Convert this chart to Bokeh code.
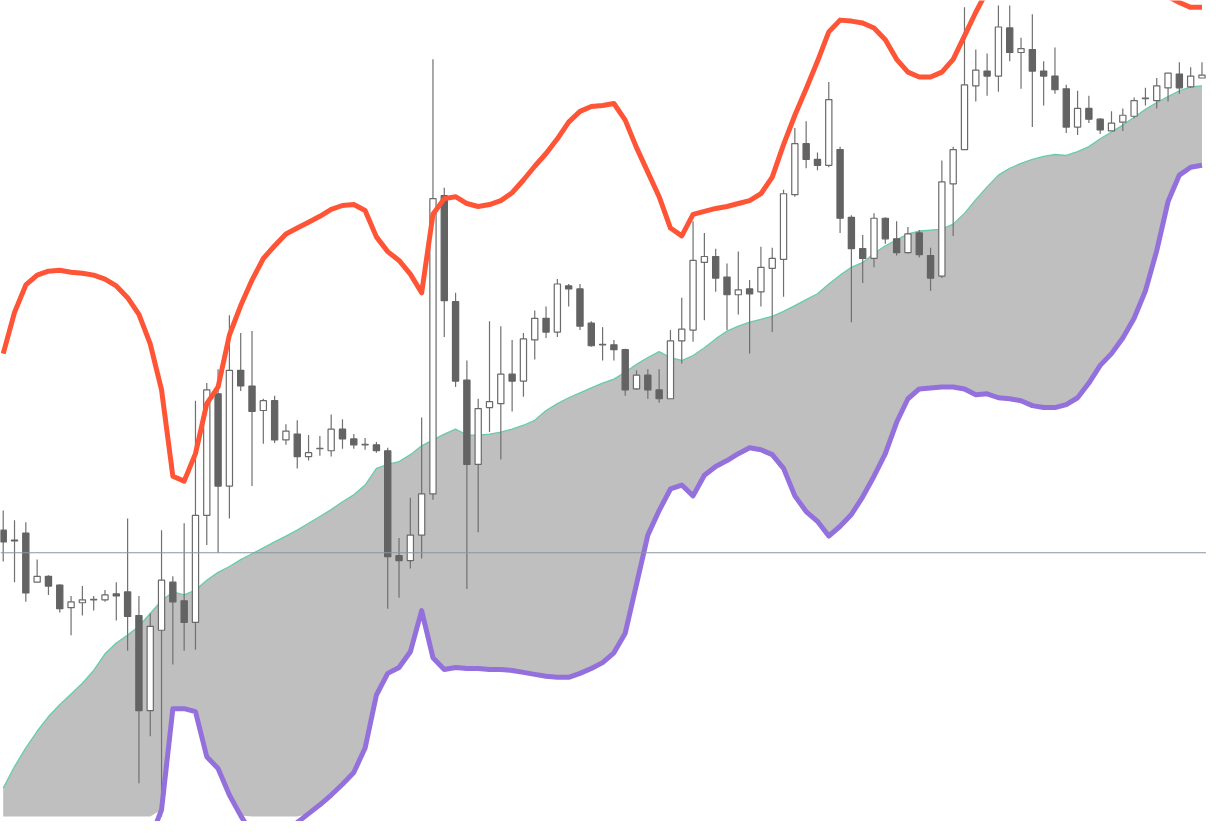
import numpy as np
from bokeh.plotting import figure
from bokeh.models import Range1d, ColumnDataSource, Span
from bokeh.embed import file_html
from bokeh.resources import INLINE

# ---- OHLC data (107 bars) ----
highs = [317,307,305,267,251,242,230,240,230,236,
         244,309,230,212,297,250,304,429,447,461,
         516,498,500,431,434,405,409,394,393,415,
         410,395,391,387,381,289,330,412,777,646,
         539,470,431,510,505,491,498,521,525,553,
         548,548,510,504,491,482,460,461,461,501,
         534,612,600,584,569,581,552,586,585,644,
         707,714,682,754,688,618,598,620,616,612,
         606,603,585,674,688,830,787,783,832,832,
         799,823,775,789,751,745,740,717,724,727,
         738,748,758,763,774,769,774]
lows = [265,244,224,244,231,213,190,210,215,224,
        205,174,39,87,5,160,174,175,282,274,
        309,439,342,385,386,384,360,368,373,372,
        380,380,379,376,217,228,258,268,328,494,
        443,237,295,397,369,418,433,471,493,494,
        525,501,484,470,470,434,440,431,427,431,
        467,489,511,540,501,517,477,525,499,535,
        637,666,664,667,600,509,549,565,589,577,
        579,575,541,554,597,685,734,740,744,775,
        747,708,730,742,702,700,712,701,704,704,
        717,730,727,734,742,748,758]
opens = [297,287,294,244,250,241,218,223,226,226,
         232,234,210,113,195,244,225,203,312,436,
         342,460,444,419,429,389,395,372,380,378,
         400,390,384,384,378,271,266,292,334,638,
         530,450,364,422,426,456,449,491,513,499,
         546,543,508,486,486,481,441,455,440,431,
         490,501,570,576,555,537,543,540,564,573,
         639,691,675,669,685,616,584,574,615,594,
         580,600,577,556,650,685,750,765,760,809,
         784,787,765,760,747,708,727,716,704,713,
         719,737,735,748,762,749,758]
closes = [285,286,233,250,240,217,224,226,226.5,231,
          230,209,113,199,246,224,203,312,440,342,
          460,444,418,429,389,398,372,376,380.5,400,
          390,384,384.5,378,270,266,292,334,635,531,
          449,364,421,428,456,449,492,513,499,548,
          543,505,485,486.5,481,440,455,440,431,490,
          502,572,576,554,537,542,538,565,574,640,
          691,675,669,736,615,584,574,615,594,580,
          599,578,554,652,685,751,766,760,810,784,
          788,765,760,746,708,727,716,705,712,720,
          735,737.5,750,763,748,760,761]

# ---- indicator lines (one value per bar) ----
upper_band = [477,519,547,557,561,562,560,559,557,553,
              546,534,517,487,440,352,347,375,426,443,
              496,526,552,574,587,599,605,611,617,624,
              628,629,623,596,581,572,558,539,619,635,
              637,630,627,629,633,641,654,668,681,696,
              713,724,729,730,732,715,687,662,637,605,
              597,619,622,625,627,630,633,640,657,690,
              720,747,775,805,817,816,814,809,797,777,
              764,759,759,764,777,801,825,847,862,872,
              877,879,877,875,875,873,869,867,865,862,
              857,852,847,841,835,830,830]
lower_band = [-43,-48,-53,-63,-68,-68,-63,-63,-58,-53,
              -48,-43,-33,-18,12,115,115,112,66,54,
              27,6,-13,-23,-23,-13,-1,8,17,27,
              38,50,75,129,151,157,173,215,167,155,
              157,156,156,155,155,154,152,150,148,147,
              147,151,156,162,172,192,242,292,317,339,
              343,332,353,362,368,375,381,379,374,360,
              332,316,306,291,301,313,331,352,375,407,
              431,441,442,443,443,441,435,436,432,431,
              429,424,422,422,425,432,447,465,477,493,
              513,541,582,632,659,667,669]
mid_line = [34,56,75,92,107,119,130,141,154,171,
            182,190,199,212,225,234,231,236,246,254,
            260,267,273,279,285,291,297,304,311,318,
            326,333,343,360,364,367,374,383,389,395,
            400,394,394,395,397,400,404,409,419,426,
            432,437,442,447,451,458,466,473,479,473,
            470,475,483,492,500,505,509,512,515,520,
            526,532,538,548,557,565,570,579,587,593,
            599,602,603,604,609,620,634,647,659,666,
            671,675,678,680,679,683,688,696,703,710,
            718,726,733,739,745,749,750]
ref_level = 274
fill_floor = 5

n = len(opens)
idx = np.arange(n)
o = np.array(opens, float); c = np.array(closes, float)
h = np.array(highs, float); l = np.array(lows, float)
up = c >= o

p = figure(width=1206, height=821, output_backend="svg", toolbar_location=None,
           x_range=Range1d(-0.24, 106.40), y_range=Range1d(0, 837),
           min_border=0, min_border_left=0, min_border_right=0,
           min_border_top=0, min_border_bottom=0)
p.xaxis.visible = False
p.yaxis.visible = False
p.xgrid.visible = False
p.ygrid.visible = False
p.outline_line_color = None
p.background_fill_color = "white"
p.border_fill_color = "white"

lower_fill = np.maximum(np.array(lower_band, float), fill_floor)
p.varea(x=idx, y1=lower_fill, y2=np.array(mid_line, float), fill_color="#bfbfbf")
p.line(idx, mid_line, line_color="#66cdaa", line_width=1.3)

p.add_layout(Span(location=ref_level, dimension="width", line_color="#8a96a3", line_width=1.2))

p.segment(x0=idx, y0=l, x1=idx, y1=h, line_color="#707070", line_width=1.2)
src_up = ColumnDataSource(dict(x=idx[up], top=c[up], bottom=o[up]))
src_dn = ColumnDataSource(dict(x=idx[~up], top=o[~up], bottom=c[~up]))
p.vbar(x="x", top="top", bottom="bottom", width=0.55, source=src_up,
       fill_color="white", line_color="#6a6a6a", line_width=1.2)
p.vbar(x="x", top="top", bottom="bottom", width=0.55, source=src_dn,
       fill_color="#636363", line_color="#636363", line_width=1.2)

p.line(idx, upper_band, line_color="#ff5536", line_width=5, line_join="round")
p.line(idx, lower_band, line_color="#9370db", line_width=5, line_join="round")

open("out.html", "w").write(file_html(p, INLINE))
